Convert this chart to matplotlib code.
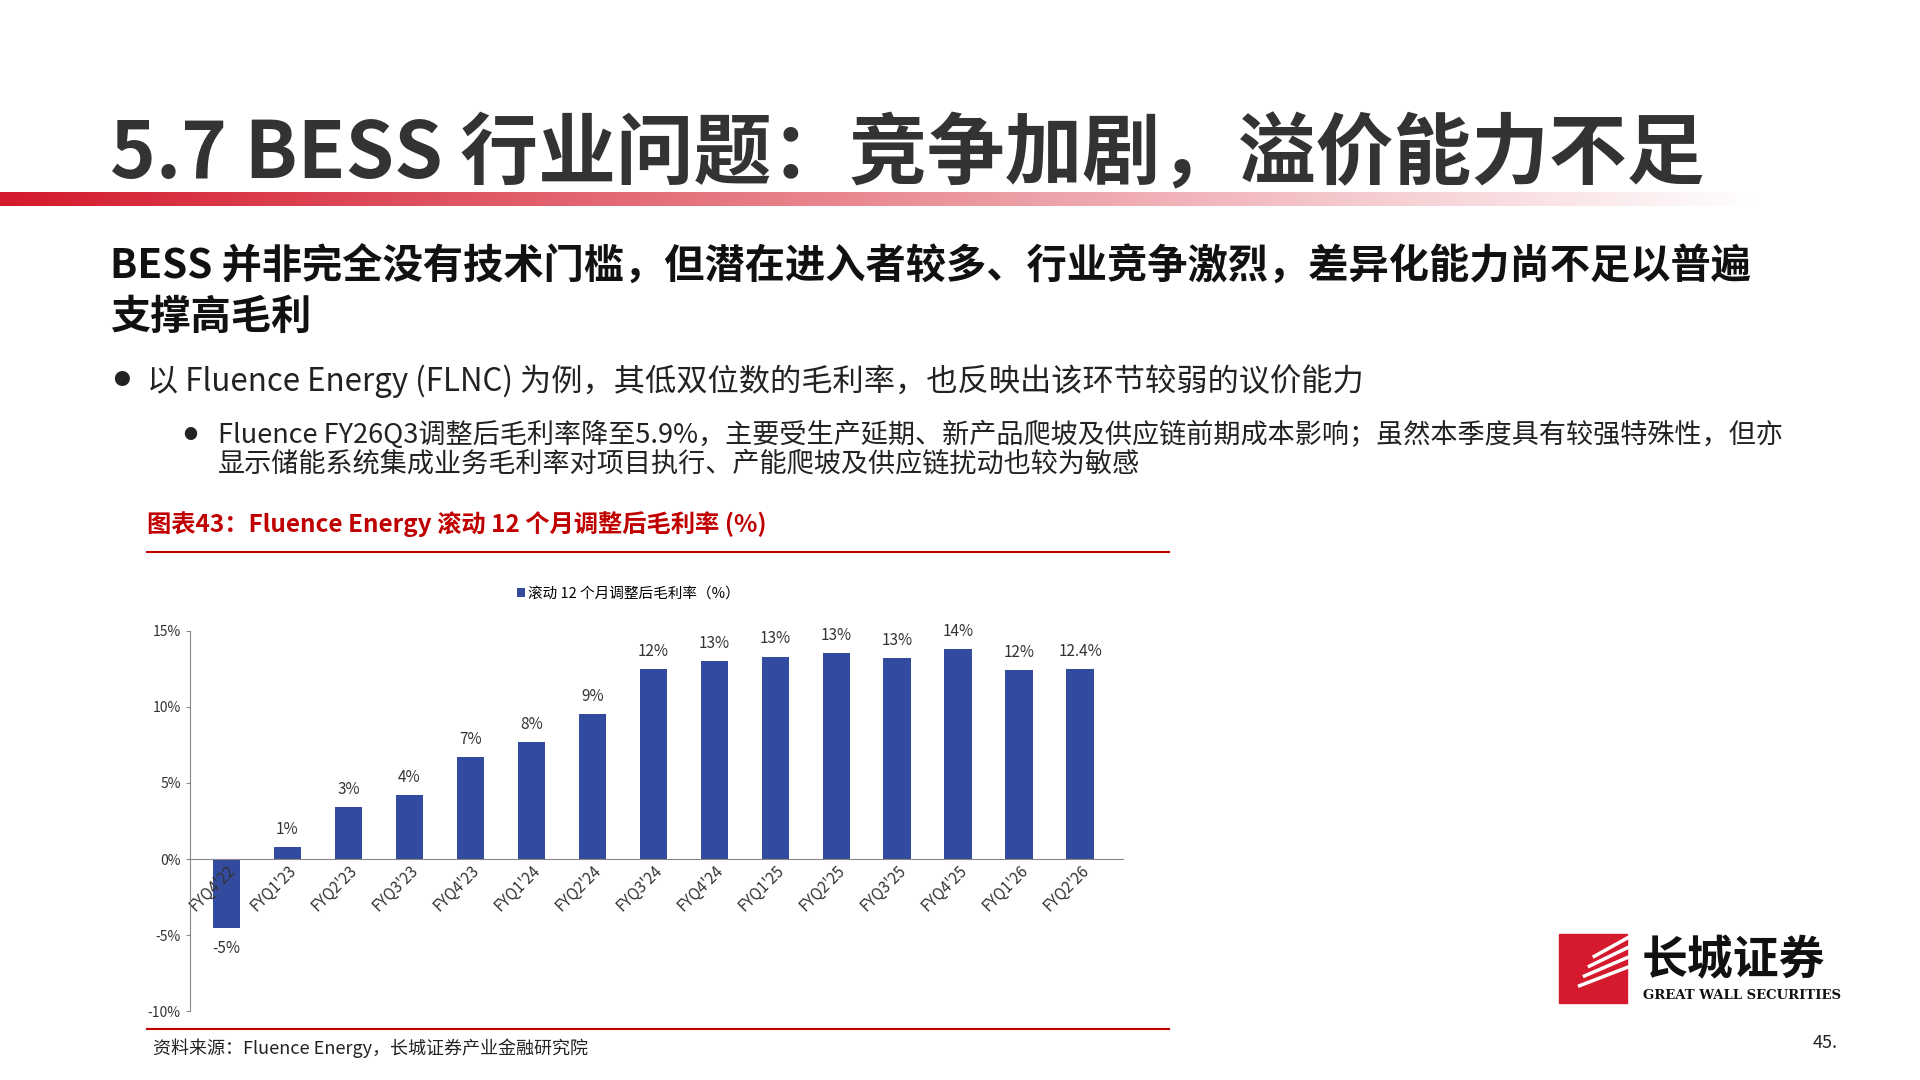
import matplotlib
matplotlib.use("Agg")
import matplotlib.pyplot as plt
import numpy as np
from matplotlib.patches import Rectangle
from matplotlib.colors import LinearSegmentedColormap

plt.rcParams['font.family'] = ['Noto Sans CJK SC', 'DejaVu Sans']

categories = ["FYQ4'22","FYQ1'23","FYQ2'23","FYQ3'23","FYQ4'23","FYQ1'24","FYQ2'24","FYQ3'24",
              "FYQ4'24","FYQ1'25","FYQ2'25","FYQ3'25","FYQ4'25","FYQ1'26","FYQ2'26"]
values = [-4.5, 0.8, 3.4, 4.2, 6.7, 7.7, 9.5, 12.5, 13.0, 13.3, 13.5, 13.2, 13.8, 12.4, 12.5]
labels = ["-5%","1%","3%","4%","7%","8%","9%","12%","13%","13%","13%","13%","14%","12%","12.4%"]
yticks = [-10, -5, 0, 5, 10, 15]
ytick_labels = ["-10%", "-5%", "0%", "5%", "10%", "15%"]

W, H = 1568, 882
fig = plt.figure(figsize=(19.2, 10.8), dpi=100)

def fx(x): return x / W
def fy(y): return 1 - y / H

fig.text(fx(90), fy(127), "5.7 BESS 行业问题：竞争加剧，溢价能力不足", fontsize=56, fontweight='bold',
         color='#333333', va='center', ha='left')
grad = np.linspace(1, 0, 512).reshape(1, -1)
bar_ax = fig.add_axes([0, fy(168), fx(1440), (168-157)/H])
cmap = LinearSegmentedColormap.from_list('g', ['#ffffff', '#d41a2c'])
bar_ax.imshow(grad, aspect='auto', cmap=cmap, vmin=0, vmax=1)
bar_ax.axis('off')

fig.text(fx(90), fy(218), "BESS 并非完全没有技术门槛，但潜在进入者较多、行业竞争激烈，差异化能力尚不足以普遍",
         fontsize=29, fontweight='bold', color='#111111', va='center')
fig.text(fx(90), fy(259), "支撑高毛利", fontsize=29, fontweight='bold', color='#111111', va='center')
fig.text(fx(92), fy(311), "●", fontsize=12, color='#222222', va='center')
fig.text(fx(120), fy(311), "以 Fluence Energy (FLNC) 为例，其低双位数的毛利率，也反映出该环节较弱的议价能力",
         fontsize=22.5, color='#222222', va='center')
fig.text(fx(150), fy(355), "●", fontsize=10, color='#222222', va='center')
fig.text(fx(178), fy(355), "Fluence FY26Q3调整后毛利率降至5.9%，主要受生产延期、新产品爬坡及供应链前期成本影响；虽然本季度具有较强特殊性，但亦",
         fontsize=19.5, color='#222222', va='center')
fig.text(fx(178), fy(379), "显示储能系统集成业务毛利率对项目执行、产能爬坡及供应链扰动也较为敏感",
         fontsize=19.5, color='#222222', va='center')

fig.text(fx(120), fy(428), "图表43：Fluence Energy 滚动 12 个月调整后毛利率 (%)", fontsize=17.5,
         fontweight='bold', color='#c00000', va='center')
fig.add_artist(plt.Line2D([fx(120), fx(955)], [fy(451), fy(451)], color='#c00000', lw=1.5))
fig.add_artist(plt.Line2D([fx(120), fx(955)], [fy(840), fy(840)], color='#c00000', lw=1.5))
fig.text(fx(125), fy(856), "资料来源：Fluence Energy，长城证券产业金融研究院", fontsize=13,
         style='italic', color='#222222', va='center')
fig.text(fx(1480), fy(852), "45.", fontsize=13, color='#222222', va='center')

ax = fig.add_axes([fx(155), fy(826), fx(917) - fx(155), (826 - 515) / H])
x = np.arange(len(categories))
ax.bar(x, values, width=0.45, color='#324b9f', label='滚动 12 个月调整后毛利率（%）')
for xi, v, lab in zip(x, values, labels):
    if v >= 0:
        ax.text(xi, v + 0.6, lab, ha='center', va='bottom', fontsize=11, color='#333333')
    else:
        ax.text(xi, v - 0.8, lab, ha='center', va='top', fontsize=11, color='#333333')
ax.set_ylim(-10, 15)
ax.set_xlim(-0.6, len(categories) - 0.3)
ax.set_yticks(yticks)
ax.set_yticklabels(ytick_labels, fontsize=10, color='#333333')
ax.spines['top'].set_visible(False)
ax.spines['right'].set_visible(False)
ax.spines['bottom'].set_position(('data', 0))
ax.spines['left'].set_color('#888888')
ax.spines['bottom'].set_color('#888888')
ax.set_xticks(x)
ax.set_xticklabels(categories, rotation=45, ha='right', rotation_mode='anchor', fontsize=11, color='#333333')
ax.tick_params(axis='x', length=0, pad=2)
ax.tick_params(axis='y', length=3, color='#888888')
ax.legend(loc='upper center', bbox_to_anchor=(0.47, 1.15), frameon=False, fontsize=10.5,
          handlelength=0.6, handleheight=0.6, handletextpad=0.2)

fig.add_artist(Rectangle((fx(1273), fy(819)), fx(56), (819 - 763) / H, color='#d41a2c'))
for i in range(4):
    fig.add_artist(plt.Line2D([fx(1290 + i * 4), fx(1329)], [fy(805 - i * 8), fy(790 - i * 8)],
                              color='white', lw=2.5))
fig.text(fx(1341), fy(785), "长城证券", fontsize=33, fontweight='bold', color='#111111', va='center')
fig.text(fx(1342), fy(813), "GREAT WALL SECURITIES", fontsize=9.5, fontweight='bold',
         family='DejaVu Serif', color='#111111', va='center')

fig.savefig("out.png", dpi=100, facecolor='white')
